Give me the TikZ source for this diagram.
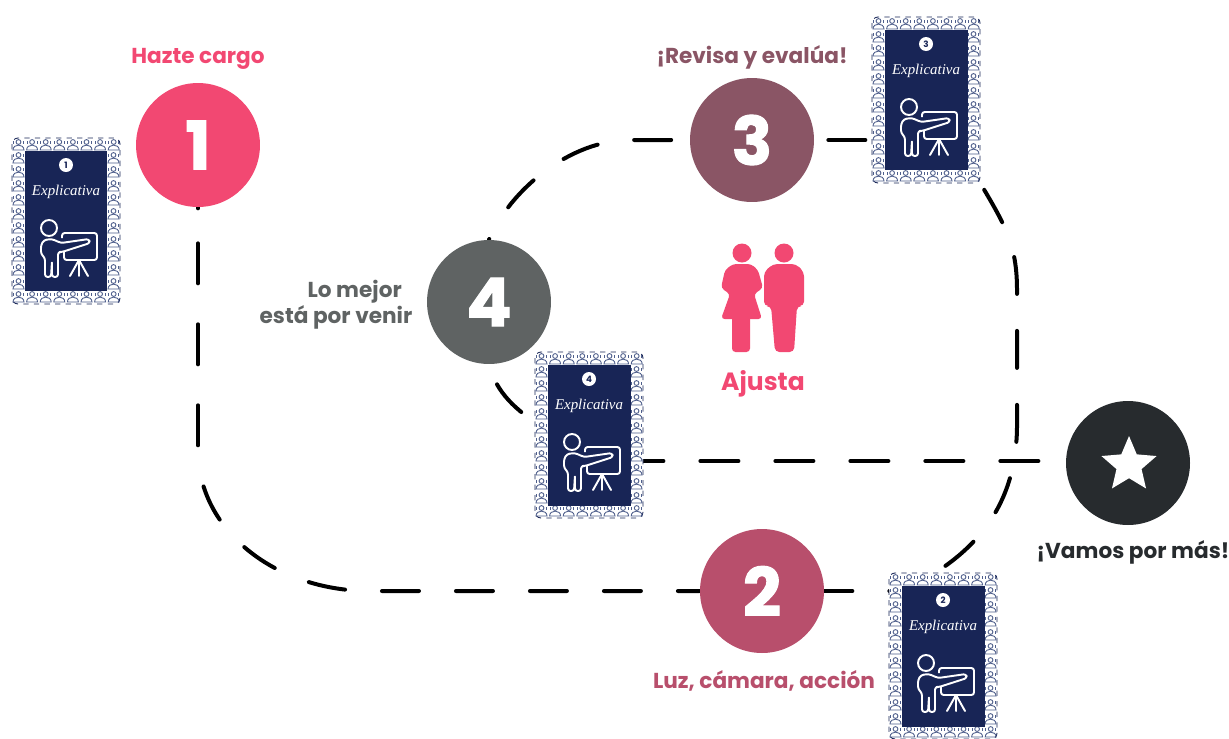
\documentclass[tikz,border=0pt]{standalone}
\usepackage{fontspec}
\setmainfont{Poppins}
\newfontfamily\cardfont{Liberation Serif}
\newfontfamily\stepfont{Poppins}[BoldFeatures={FakeBold=1.6}]
\usetikzlibrary{shapes.geometric,backgrounds}
\definecolor{pinkc}{HTML}{F24872}
\definecolor{rosec}{HTML}{B84F6C}
\definecolor{mauvec}{HTML}{8A5565}
\definecolor{grayc}{HTML}{5F6363}
\definecolor{darkc}{HTML}{272B2E}
\definecolor{navyc}{HTML}{182556}
\definecolor{iconc}{HTML}{4F5F8C}
\tikzset{
  stepcircle/.style={circle, fill=#1, minimum size=2.48cm, inner sep=0pt, text=white, font=\stepfont\fontsize{38}{38}\selectfont\bfseries},
  steplabel/.style={text=#1, font=\fontsize{12.3}{15}\selectfont\bfseries, inner sep=0pt},
  route/.style={black, line width=0.08cm, dash pattern=on 0.74cm off 0.74cm, line cap=round},
  pics/miniicon/.style={code={
    \draw [iconc, line width=0.5pt] (0,-3) circle (2.4) ;
    \draw [iconc, line width=0.5pt] (-5.5,5) .. controls (-5.5,-1.5) and (5.5,-1.5) .. (5.5,5) -- cycle ;
    \draw [iconc, line width=0.5pt] (-5,-4) -- (-5,-1) (5,-4) -- (5,-1) ;
  }},
  pics/card/.style={code={
    \node [draw=navyc, dashed, line width=0.5pt, rounded corners=0.12cm, fill=white, minimum width=2.16cm, minimum height=3.32cm, inner sep=0pt] (-box) at (0,0) {} ;
    \foreach \i in {0,...,7} {
      \pic at (-47.5+\i*13.6,-76) {miniicon} ;
      \pic at (-47.5+\i*13.6,76) {miniicon} ;
    }
    \foreach \i in {0,...,9} {
      \pic at (-47.5,-63+\i*14) {miniicon} ;
      \pic at (47.5,-63+\i*14) {miniicon} ;
    }
    \node [fill=navyc, minimum width=1.66cm, minimum height=2.82cm, inner sep=0pt] (-panel) at (0,0) {} ;
    \node [circle, fill=white, text=navyc, minimum size=0.28cm, inner sep=0pt, font=\fontsize{5}{5}\selectfont\bfseries] (-num) at (0,-56) {#1} ;
    \node [text=white, inner sep=0pt, font=\fontsize{8.5}{8.5}\selectfont\cardfont\itshape] (-title) at (0,-29) {Explicativa} ;
    % presenter
    \draw [white, line width=1.1pt] (-17,7) circle (8) ;
    \draw [white, line width=1.1pt, line join=round, rounded corners=1.5pt] (-21,56) -- (-21,37) -- (-25,33) -- (-25,24) -- (-22,19) -- (-14,18) -- (-5,22) -- (23,18) -- (24,22) -- (-4,31) -- (-8,31) -- (-8,56) -- (-14,56) -- (-14,40) -- (-15,56) -- cycle ;
    \draw [white, line width=1.1pt, line join=round, rounded corners=1.5pt] (-4,17) -- (-4,12) -- (31,12) -- (31,39) -- (-2,39) -- (-2,31) ;
    \draw [white, line width=1.1pt, line cap=round] (13,39) -- (4,55) (13,39) -- (13,55) (13,39) -- (22,55) ;
  }},
}
\begin{document}
\begin{tikzpicture}[x=0.02cm, y=-0.02cm]
    \useasboundingbox (0,0) rectangle (1229,738) ;

    \node [stepcircle=pinkc] (one) at (198,145) {1} ;
    \node [stepcircle=rosec] (two) at (762,591) {2} ;
    \node [stepcircle=mauvec] (three) at (752,140) {3} ;
    \node [stepcircle=grayc] (four) at (489,302) {4} ;
    \node [stepcircle=darkc] (final) at (1128,463) {} ;
    \node [star, star points=5, star point ratio=2.2, fill=white, minimum size=1.16cm, inner sep=0pt] (finalstar) at (1129,465) {} ;
    \coordinate (finalin) at (1040,461) ;

    \pic (cardone) at (66,221) {card=1} ;
    \pic (cardtwo) at (943,656) {card=2} ;
    \pic (cardthree) at (926,100) {card=3} ;
    \pic (cardfour) at (589,435) {card=4} ;

    \node [steplabel=pinkc] (hazte) at (198,58.5) {Hazte cargo} ;
    \node [steplabel=mauvec] (revisa) at (752,57.5) {¡Revisa y evalúa!} ;
    \node [steplabel=grayc, align=right] (mejor) at (336,305) {Lo mejor\rule{6pt}{0pt}\\está por venir} ;
    \node [steplabel=rosec] (luz) at (764,680.5) {Luz, cámara, acción} ;
    \node [steplabel=darkc] (vamos) at (1133,552) {¡Vamos por más!} ;
    \node [steplabel=pinkc, font=\fontsize{14.2}{17}\selectfont\bfseries] (ajusta) at (763,384) {Ajusta} ;

    % couple
    \fill [pinkc] (742,253) circle (9.5) ;
    \fill [pinkc] (784,253) circle (9.5) ;
    \fill [pinkc, rounded corners=2pt] (733,264) -- (751,264) -- (758,270) -- (763,288) -- (754,294) -- (762,319) -- (721,319) -- (730,294) -- (721,288) -- (725,270) -- cycle ;
    \fill [pinkc, rounded corners=2pt] (732,315) rectangle (750,352) ;
    \fill [pinkc, rounded corners=2.5pt] (773,264) -- (796,264) -- (804,272) -- (804,306) -- (797,306) -- (794,352) -- (775,352) -- (771,306) -- (764,306) -- (764,272) -- cycle ;

    \begin{scope}[on background layer]
        \draw [route] (one.south) -- ++(0,1) ;
        \draw [route, dash pattern=on 0.8cm off 0.82cm, dash phase=0.9cm] (one) -- (198,447) ;
        \draw [route, dash phase=0.74cm] (198,450) .. controls (198,530) and (275,591) .. (370,591) -- (two) ;
        \draw [route, dash pattern=on 0.56cm off 0.74cm] (two) -- (890,591) ;
        \draw [route, dash phase=1.42cm] (cardtwo-box.north) ++(0,-5) .. controls (990,535) and (1017,490) .. (1017,425) -- (1017,290) .. controls (1017,245) and (1005,225) .. (cardthree-box.south east) ;
        \draw [route] (three.east) ++(14,0) -- (cardthree-box.west |- three.east) ;
        \draw [route, dash phase=1.11cm] (three.west) -- (630,140) .. controls (570,140) and (510,190) .. (four.north) ;
        \draw [route] (four.south) ++(8,20) .. controls (503,395) and (512,405) .. (525,415) ;
        \draw [route, dash pattern=on 0.76cm off 0.74cm, dash phase=0.36cm] (cardfour-box.east |- finalin) -- (finalin) ;
    \end{scope}
\end{tikzpicture}
\end{document}
